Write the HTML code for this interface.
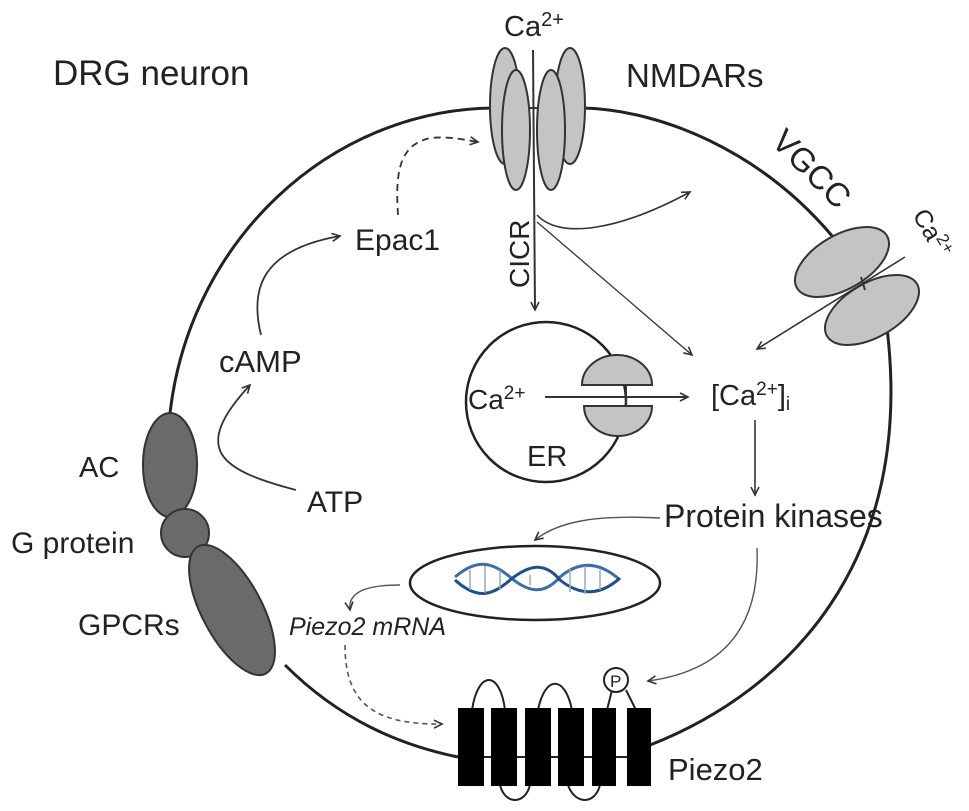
<!DOCTYPE html>
<html><head><meta charset="utf-8"><style>
html,body{margin:0;padding:0;background:#fff;}
svg{display:block;}
text{font-family:"Liberation Sans",Arial,sans-serif;fill:#222;}
</style></head><body>
<svg width="969" height="811" viewBox="0 0 969 811" xmlns="http://www.w3.org/2000/svg">
<defs>
<marker id="ah" markerWidth="12" markerHeight="12" refX="9" refY="5" orient="auto" markerUnits="userSpaceOnUse">
<path d="M1,1 L9,5 L1,9" fill="none" stroke="#333" stroke-width="1.6"/>
</marker>
</defs>
<g fill="none" stroke="#222" stroke-width="3">
<path d="M650,745 C790,690 915,560 887,328"/>
<path d="M833,237 C760,150 660,110 583,108"/>
<path d="M493,108 C330,110 190,240 170,413"/>
<path d="M285,665 C340,720 400,745 458,757"/>
</g>
<g fill="#c4c4c4" stroke="#333" stroke-width="2">
<ellipse cx="505" cy="106" rx="15" ry="58"/>
<ellipse cx="570" cy="106" rx="15" ry="58"/>
<ellipse cx="516" cy="130" rx="14" ry="60"/>
<ellipse cx="551" cy="130" rx="14" ry="60"/>
</g>
<line x1="533" y1="50" x2="535" y2="310" stroke="#333" stroke-width="2" marker-end="url(#ah)"/>
<line x1="530" y1="108" x2="538" y2="108" stroke="#333" stroke-width="2"/>
<text x="504" y="36" font-size="29">Ca<tspan font-size="20" dy="-10">2+</tspan></text>
<text x="626" y="87" font-size="33">NMDARs</text>
<text x="53" y="85" font-size="35">DRG neuron</text>
<text transform="translate(529,288) rotate(-90)" font-size="28">CICR</text>
<path d="M537,215 C560,240 620,230 690,192" fill="none" stroke="#333" stroke-width="1.6" marker-end="url(#ah)"/>
<path d="M537,222 L692,355" fill="none" stroke="#333" stroke-width="1.3" marker-end="url(#ah)"/>
<g fill="#c4c4c4" stroke="#333" stroke-width="2">
<ellipse cx="842" cy="262" rx="52" ry="27" transform="rotate(-30 842 262)"/>
<ellipse cx="872" cy="310" rx="52" ry="27" transform="rotate(-30 872 310)"/>
</g>
<line x1="905" y1="257" x2="757" y2="349" stroke="#333" stroke-width="1.6" marker-end="url(#ah)"/>
<line x1="861" y1="277" x2="865" y2="290" stroke="#333" stroke-width="2"/>
<text transform="translate(770,143) rotate(45)" font-size="33">VGCC</text>
<text transform="translate(912,215) rotate(60)" font-size="25">Ca<tspan font-size="17" dy="-9">2+</tspan></text>
<circle cx="546" cy="402" r="80" fill="none" stroke="#222" stroke-width="2.5"/>
<g fill="#c4c4c4" stroke="#333" stroke-width="2">
<path d="M582,385 A35,30 0 0 1 652,385 Z"/>
<path d="M584,406 A34,30 0 0 0 652,406 Z"/>
</g>
<line x1="545" y1="397" x2="688" y2="397" stroke="#333" stroke-width="2" marker-end="url(#ah)"/>
<line x1="626" y1="386" x2="626" y2="406" stroke="#333" stroke-width="2"/>
<text x="468" y="409" font-size="28">Ca<tspan font-size="19" dy="-10">2+</tspan></text>
<text x="527" y="466" font-size="29">ER</text>
<text x="711" y="405" font-size="29">[Ca<tspan font-size="19" dy="-10">2+</tspan><tspan dy="10">]</tspan><tspan font-size="19" dy="5">i</tspan></text>
<line x1="755" y1="420" x2="755" y2="495" stroke="#333" stroke-width="1.6" marker-end="url(#ah)"/>
<text x="664" y="527" font-size="32">Protein kinases</text>
<g fill="#6a6a6a" stroke="#333" stroke-width="2">
<ellipse cx="170" cy="465" rx="27" ry="52"/>
<circle cx="185" cy="533" r="24"/>
<ellipse cx="232" cy="610" rx="30" ry="72" transform="rotate(-28 232 610)"/>
</g>
<text x="79" y="477" font-size="29">AC</text>
<text x="11" y="553" font-size="30">G protein</text>
<text x="78" y="635" font-size="30">GPCRs</text>
<text x="307" y="512" font-size="30">ATP</text>
<text x="219" y="372" font-size="31">cAMP</text>
<text x="355" y="250" font-size="30">Epac1</text>
<path d="M296,490 C220,470 190,450 250,385" fill="none" stroke="#333" stroke-width="1.8" marker-end="url(#ah)"/>
<path d="M261,335 C250,290 260,250 340,236" fill="none" stroke="#333" stroke-width="1.8" marker-end="url(#ah)"/>
<path d="M398,215 C395,170 400,145 430,138 C450,136 465,140 478,142" fill="none" stroke="#333" stroke-width="1.8" stroke-dasharray="7,5" marker-end="url(#ah)"/>
<ellipse cx="535" cy="583" rx="125" ry="37" fill="#fff" stroke="#222" stroke-width="2.5"/>
<g fill="none" stroke-width="3">
<path d="M455,577 C475,560 490,560 510,577 C530,594 545,594 560,577 C580,560 600,562 620,580" stroke="#3a6ea8"/>
<path d="M455,580 C475,598 490,598 510,580 C530,564 545,562 560,580 C580,596 600,596 620,578" stroke="#1f4f8a"/>
<path d="M470,570 L470,590 M485,566 L485,593 M500,570 L500,590 M530,575 L530,585 M570,568 L570,592 M585,566 L585,594 M600,570 L600,590" stroke="#9ab" stroke-width="1.5"/>
</g>
<path d="M660,518 C600,515 560,520 535,540" fill="none" stroke="#555" stroke-width="1.4" marker-end="url(#ah)"/>
<path d="M400,585 C360,585 348,595 350,610" fill="none" stroke="#555" stroke-width="1.4" marker-end="url(#ah)"/>
<text x="289" y="635" font-size="25" font-style="italic">Piezo2 mRNA</text>
<path d="M345,645 C345,700 370,725 442,724" fill="none" stroke="#555" stroke-width="1.6" stroke-dasharray="5,4" marker-end="url(#ah)"/>
<path d="M757,548 C760,620 730,670 648,681" fill="none" stroke="#555" stroke-width="1.4" marker-end="url(#ah)"/>
<g fill="none" stroke="#222" stroke-width="2">
<line x1="458" y1="757" x2="650" y2="757"/>
<path d="M472,710 C478,670 500,670 505,710"/>
<path d="M538,710 C545,675 565,675 572,710"/>
<path d="M607,710 L612,690 M636,710 L626,690"/>
<path d="M500,785 C505,805 525,805 530,785"/>
<path d="M568,785 C575,805 595,805 600,785"/>
</g>
<circle cx="616" cy="680" r="12" fill="#fff" stroke="#222" stroke-width="2"/>
<text x="610" y="687" font-size="17">P</text>
<g fill="#000">
<rect x="458" y="708" width="26" height="78"/>
<rect x="491" y="708" width="26" height="78"/>
<rect x="525" y="708" width="26" height="78"/>
<rect x="558" y="708" width="26" height="78"/>
<rect x="592" y="708" width="24" height="78"/>
<rect x="627" y="708" width="24" height="78"/>
</g>
<text x="668" y="780" font-size="31">Piezo2</text>
</svg>
</body></html>
